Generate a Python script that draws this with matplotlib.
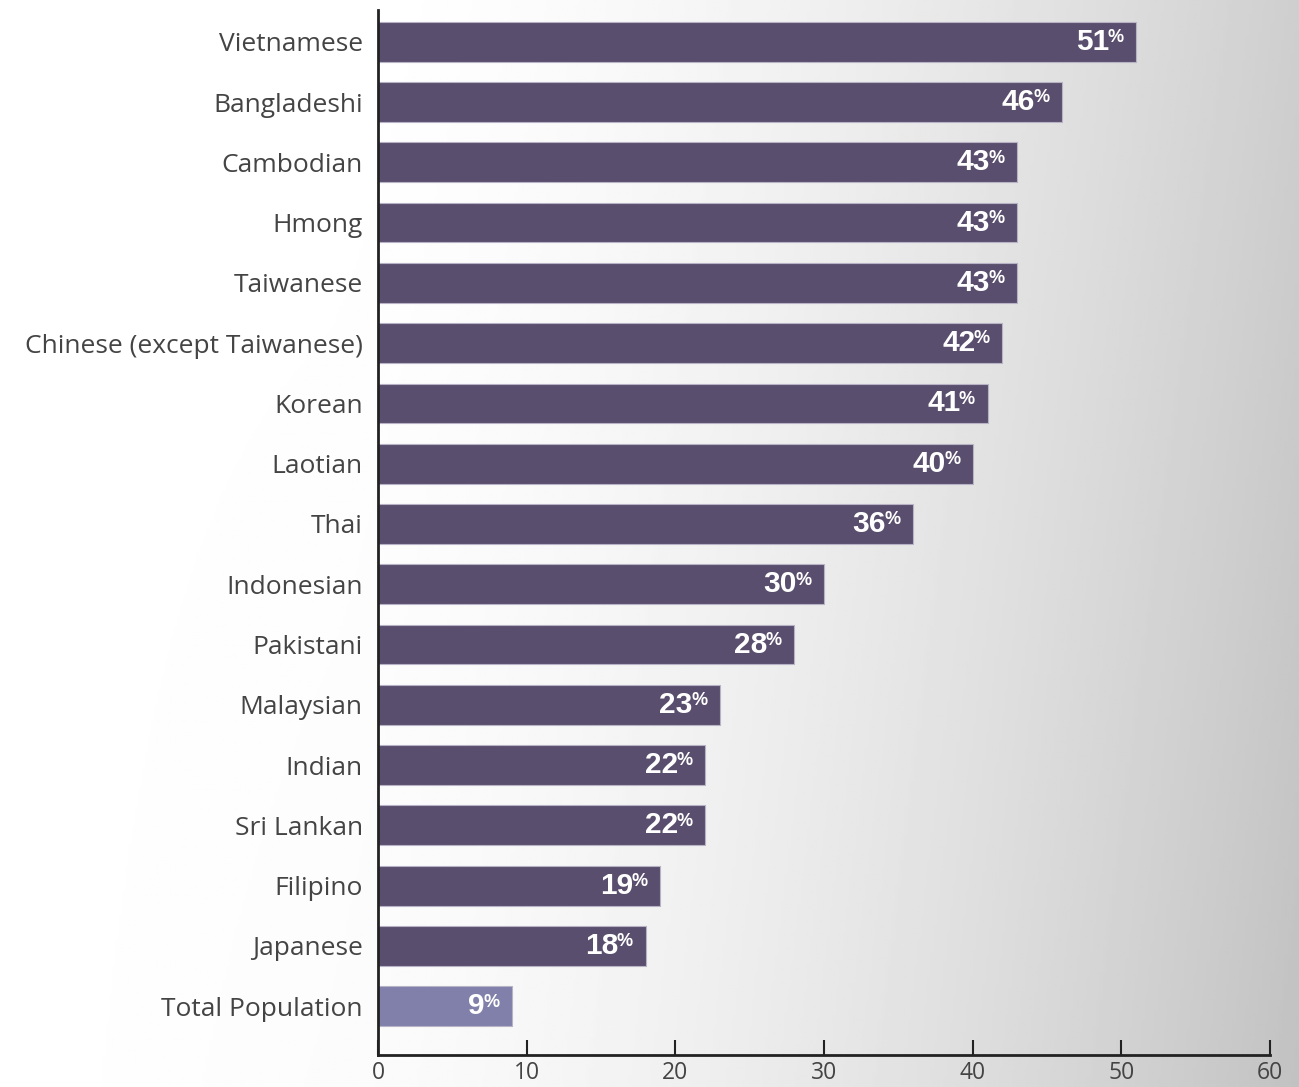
import numpy as np
import matplotlib.pyplot as plt

groups = ['Vietnamese', 'Bangladeshi', 'Cambodian', 'Hmong', 'Taiwanese',
          'Chinese (except Taiwanese)', 'Korean', 'Laotian', 'Thai',
          'Indonesian', 'Pakistani', 'Malaysian', 'Indian', 'Sri Lankan',
          'Filipino', 'Japanese', 'Total Population']
pct = [51, 46, 43, 43, 43, 42, 41, 40, 36, 30, 28, 23, 22, 22, 19, 18, 9]
xticks = [0, 10, 20, 30, 40, 50, 60]

dark = '#5a4e6e'
light = '#8080ab'

fig = plt.figure(figsize=(12.99, 10.87), dpi=100)

# soft grey backdrop, white at the left fading to grey on the right
bg = fig.add_axes([0, 0, 1, 1], zorder=-10)
gx, gy = np.meshgrid(np.linspace(0, 1, 400), np.linspace(0, 1, 400))
shade = 1.0 - 0.19 * np.clip((gx - 0.25) / 0.75, 0, 1) ** 1.7 - 0.05 * gx * gy
bg.imshow(shade, cmap='gray', vmin=0, vmax=1, aspect='auto',
          extent=[0, 1, 0, 1], origin='upper')
bg.axis('off')

ax = fig.add_axes([0.291, 0.0294, 0.6867, 0.9616])
ax.patch.set_alpha(0)

y = np.arange(len(groups))[::-1]
colors = [dark] * (len(groups) - 1) + [light]
ax.barh(y, pct, height=0.66, color=colors, edgecolor='#b8b2c6', linewidth=0.8)

for yi, v in zip(y, pct):
    ax.annotate('%', (v, yi), xytext=(-9, 3), textcoords='offset points',
                ha='right', va='center', color='white', fontsize=13,
                fontweight='bold', family='Liberation Sans')
    ax.annotate(str(v), (v, yi), xytext=(-19.5, 0), textcoords='offset points',
                ha='right', va='center', color='white', fontsize=21.5,
                fontweight='bold', family='Liberation Sans')

ax.set_xlim(0, 60)
ax.set_ylim(-0.81, 16.53)
ax.set_yticks(y)
ax.set_yticklabels(groups, fontsize=19, color='#444444', family='Open Sans')
ax.set_xticks(xticks)
ax.set_xticklabels([str(t) for t in xticks], fontsize=16.5, color='#444444',
                   family='Open Sans')
ax.tick_params(axis='y', length=0, pad=11)
ax.tick_params(axis='x', direction='in', length=11, width=1.5, pad=4,
               color='#222222')

for s in ['top', 'right']:
    ax.spines[s].set_visible(False)
ax.spines['left'].set_linewidth(2)
ax.spines['bottom'].set_linewidth(2)
ax.spines['left'].set_color('#222222')
ax.spines['bottom'].set_color('#222222')

fig.savefig('out.png', dpi=100)
